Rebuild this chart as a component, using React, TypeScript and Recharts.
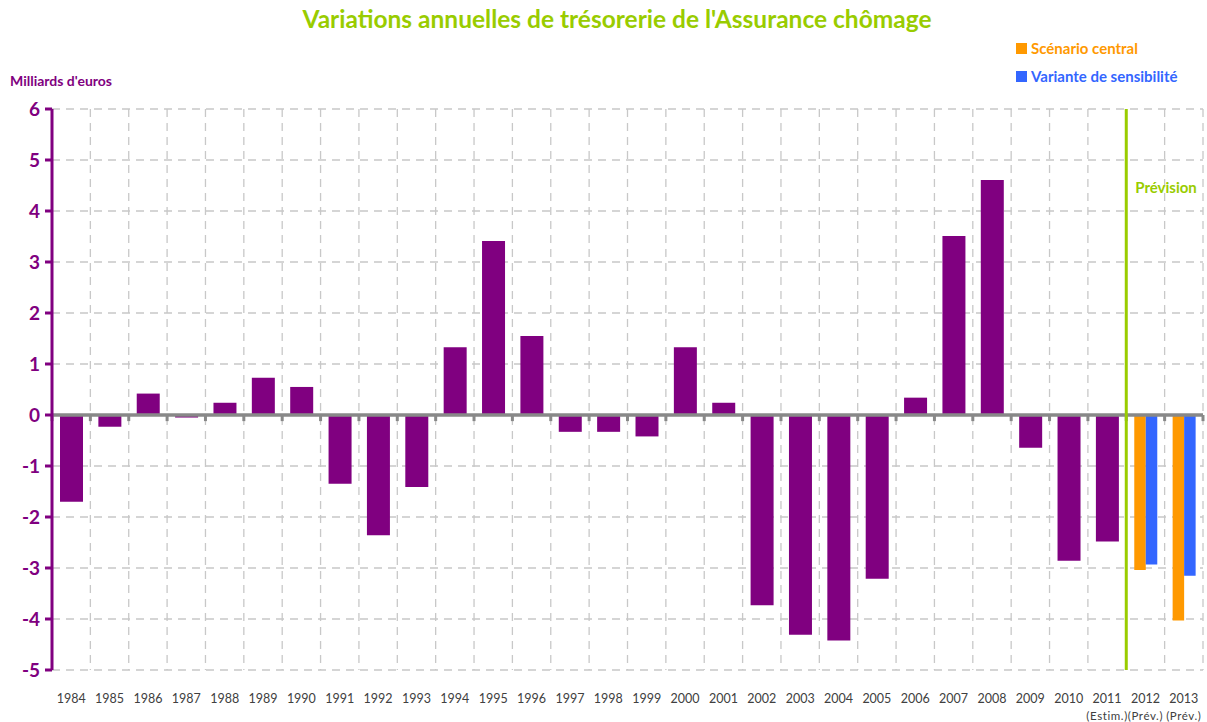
import React from 'react';
import { BarChart, Bar, XAxis, YAxis, CartesianGrid, ReferenceLine } from 'recharts';

const years = ['1984', '1985', '1986', '1987', '1988', '1989', '1990', '1991', '1992', '1993', '1994', '1995', '1996', '1997', '1998', '1999', '2000', '2001', '2002', '2003', '2004', '2005', '2006', '2007', '2008', '2009', '2010', '2011', '2012', '2013'];
const notes: Record<string, string> = { '2011': '(Estim.)', '2012': '(Prév.)', '2013': '(Prév.)' };
// realised yearly variation, billions of euros
const variation = [-1.7, -0.23, 0.42, -0.05, 0.24, 0.73, 0.55, -1.35, -2.36, -1.41, 1.33, 3.41, 1.55, -0.33, -0.33, -0.42, 1.33, 0.24, -3.73, -4.31, -4.42, -3.21, 0.34, 3.51, 4.61, -0.64, -2.86, -2.48, null, null];
const central = [...Array(28).fill(null), -3.04, -4.03];
const variante = [...Array(28).fill(null), -2.93, -3.15];
const yTicks = [-5, -4, -3, -2, -1, 0, 1, 2, 3, 4, 5, 6];

const series = [
  { key: 'central', name: 'Scénario central', color: '#ff9900' },
  { key: 'variante', name: 'Variante de sensibilité', color: '#3366ff' },
];

const data = years.map((year, i) => ({ year, variation: variation[i], central: central[i], variante: variante[i] }));

const FONT = 'Lato, "Open Sans", sans-serif';
const PURPLE = '#800080';
const GREEN = '#99cc00';

const YearTick = (props: any) => {
  const { x, y, payload } = props;
  const note = notes[payload.value];
  return (
    <g>
      <text x={x} y={y + 3} textAnchor="middle" fill="#404040" fontSize={12.5} fontFamily={FONT}>{payload.value}</text>
      {note && (
        <text x={x} y={y + 20} textAnchor="middle" fill="#404040" fontSize={11.5} fontFamily={FONT} letterSpacing={0.6}>{note}</text>
      )}
    </g>
  );
};

// grid lines sit between the year bands, not through them
const boundaries = ({ xAxis, offset }: any) => {
  const s = xAxis?.scale;
  if (typeof s === 'function' && typeof s.bandwidth === 'function') {
    const xs = years.map((y) => s(y));
    xs.push(s(years[years.length - 1]) + s.bandwidth());
    return xs;
  }
  const step = offset.width / years.length;
  return [...years.map((_, i) => offset.left + i * step), offset.left + offset.width];
};

export default function App() {
  return (
    <div style={{ position: 'absolute', left: 0, top: 0, width: 1207, height: 722, background: '#fff', fontFamily: FONT }}>
      <div style={{ position: 'absolute', top: 4, left: 0, width: 1234, textAlign: 'center', color: GREEN, fontWeight: 'bold', fontSize: 24.5 }}>
        Variations annuelles de trésorerie de l'Assurance chômage
      </div>
      <div style={{ position: 'absolute', top: 72, left: 10, color: PURPLE, fontWeight: 'bold', fontSize: 14 }}>Milliards d'euros</div>
      {series.map((s, i) => (
        <div key={s.key} style={{ position: 'absolute', top: 39 + i * 28, left: 1016, display: 'flex', alignItems: 'center', color: s.color, fontWeight: 'bold', fontSize: 15 }}>
          <span style={{ display: 'inline-block', width: 11, height: 11, background: s.color, marginRight: 4 }} />
          {s.name}
        </div>
      ))}
      <BarChart width={1207} height={722} data={data} margin={{ top: 109, right: 4, bottom: 0, left: 0 }} barGap={0}>
        <CartesianGrid xAxisId="main" stroke="#c8c8c8" strokeWidth={1.3} strokeDasharray="8 6" verticalCoordinatesGenerator={boundaries} />
        <XAxis xAxisId="main" dataKey="year" interval={0} axisLine={false} tickLine={false} tickSize={0} tickMargin={0} height={52} tick={<YearTick />} />
        <XAxis xAxisId="fc" dataKey="year" hide />
        <YAxis
          width={52}
          domain={[-5, 6]}
          ticks={yTicks}
          interval={0}
          axisLine={{ stroke: PURPLE, strokeWidth: 3 }}
          tickLine={{ stroke: PURPLE, strokeWidth: 3 }}
          tickSize={7}
          tickMargin={5}
          tick={{ fill: PURPLE, fontSize: 19, fontWeight: 'bold', fontFamily: FONT }}
        />
        <Bar xAxisId="main" dataKey="variation" fill={PURPLE} barSize={23} isAnimationActive={false} />
        {series.map((s) => (
          <Bar key={s.key} xAxisId="fc" dataKey={s.key} name={s.name} fill={s.color} barSize={11.5} isAnimationActive={false} />
        ))}
        <ReferenceLine xAxisId="main" y={0} stroke="#888888" strokeWidth={3.5} />
        {years.map((yr) => (
          <ReferenceLine key={yr} xAxisId="main" position="start" segment={[{ x: yr, y: 0 }, { x: yr, y: -0.12 }]} stroke="#888888" strokeWidth={3} />
        ))}
        <ReferenceLine xAxisId="main" position="end" segment={[{ x: '2013', y: 0 }, { x: '2013', y: -0.12 }]} stroke="#888888" strokeWidth={3} />
        <ReferenceLine
          xAxisId="main"
          x="2012"
          position="start"
          stroke={GREEN}
          strokeWidth={3}
          label={(p: any) => (
            <text x={p.viewBox.x + 9} y={p.viewBox.y + 84} fill={GREEN} fontWeight="bold" fontSize={15} fontFamily={FONT}>Prévision</text>
          )}
        />
      </BarChart>
    </div>
  );
}
